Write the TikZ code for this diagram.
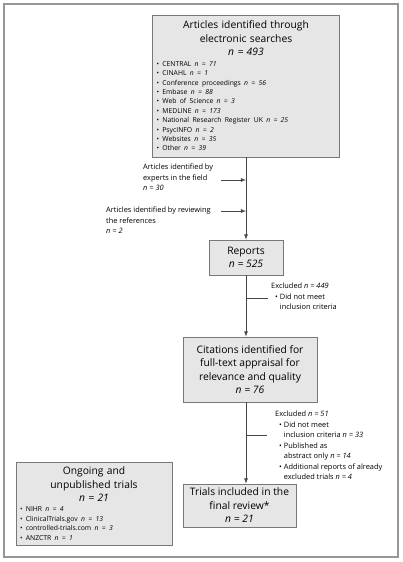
\documentclass[tikz,border=0pt]{standalone}
\usepackage{fontspec}
\setmainfont{Open Sans}
\usetikzlibrary{positioning,arrows}
\definecolor{boxgray}{RGB}{230,230,230}
\definecolor{edgegray}{RGB}{120,120,120}
\definecolor{framegray}{RGB}{150,150,150}
\definecolor{linegray}{RGB}{70,70,70}
\newcommand{\nval}[1]{\textit{n = #1}}
\newcommand{\bul}{\textbullet\ }
\newcommand{\bigtxt}{\fontsize{10.3}{13.5}\selectfont}
\newcommand{\listtxt}{\fontsize{6.8}{9.4}\selectfont}

\begin{document}
\begin{tikzpicture}[x=1pt,y=1pt,
		box/.style={draw=edgegray, fill=boxgray, line width=0.8pt, inner sep=0pt},
		side/.style={font=\fontsize{7.4}{10.5}\selectfont, inner sep=0pt, align=left, anchor=north west},
		flow/.style={draw=linegray, line width=0.8pt, -latex},
		stub/.style={draw=linegray, line width=0.8pt}]
		\useasboundingbox (0,0) rectangle (403,-562);
		\draw [framegray, line width=1.2pt] (4,-4) rectangle (398,-557);
		% boxes
		\node [box, minimum width=187, minimum height=142, text width=179] (search) at (246,-86) {%
			{\centering\bigtxt Articles identified through\\ electronic searches\\ \nval{493}\par}
			\vspace{1pt}
			{\listtxt \bul CENTRAL \nval{71}\\ \bul CINAHL \nval{1}\\ \bul Conference proceedings \nval{56}\\
			\bul Embase \nval{88}\\ \bul Web of Science \nval{3}\\ \bul MEDLINE \nval{173}\\
			\bul National Research Register UK \nval{25}\\ \bul PsycINFO \nval{2}\\
			\bul Websites \nval{35}\\ \bul Other \nval{39}\par}};
		\node [box, minimum width=74, minimum height=35, align=center, font=\bigtxt] (reports) at (246,-257.5) {Reports\\ \nval{525}};
		\node [box, minimum width=134, minimum height=65, align=center, font=\bigtxt] (cites) at (250,-369.5)
			{Citations identified for\\ full-text appraisal for\\ relevance and quality\\ \nval{76}};
		\node [box, minimum width=113, minimum height=43, align=center, font=\bigtxt] (trials) at (239.5,-505.5)
			{Trials included in the\\ final review*\\ \nval{21}};
		\node [box, minimum width=156, minimum height=83, text width=148] (ongoing) at (94,-503.5) {%
			{\centering\bigtxt Ongoing and\\ unpublished trials\\ \nval{21}\par}
			\vspace{1pt}
			{\listtxt \bul NIHR \nval{4}\\ \bul ClinicalTrials.gov \nval{13}\\
			\bul controlled-trials.com \nval{3}\\ \bul ANZCTR \nval{1}\par}};
		% side notes
		\node [side] (experts) at (143,-164) {Articles identified by\\ experts in the field\\ \nval{30}};
		\node [side] (refs) at (106,-207) {Articles identified by reviewing\\ the references\\ \nval{2}};
		\node [side] (excl1) at (271,-283) {Excluded \nval{449}\\ \hspace*{4pt}\bul Did not meet\\ \hspace*{4pt}\phantom{\bul}inclusion criteria};
		\node [side] (excl2) at (275,-411) {Excluded \nval{51}\\ \hspace*{4pt}\bul Did not meet\\ \hspace*{4pt}\phantom{\bul}inclusion criteria \nval{33}\\
			\hspace*{4pt}\bul Published as\\ \hspace*{4pt}\phantom{\bul}abstract only \nval{14}\\
			\hspace*{4pt}\bul Additional reports of already\\ \hspace*{4pt}\phantom{\bul}excluded trials \nval{4}};
		% connectors
		\coordinate (e1) at (221,-180);
		\coordinate (e2) at (221,-211);
		\coordinate (x1) at (268,-298);
		\coordinate (x2) at (267,-435);
		\draw [flow] (search.south) -- (reports.north);
		\draw [flow] (reports.south) -- (reports.south |- cites.north);
		\draw [flow] (cites.south -| reports.south) -- (trials.north -| reports.south);
		\draw [flow] (e1) -- (e1 -| reports.north);
		\draw [flow] (e2) -- (e2 -| reports.north);
		\draw [stub] (x1) -- (x1 -| reports.south);
		\draw [stub] (x2) -- (x2 -| reports.south);
\end{tikzpicture}
\end{document}
